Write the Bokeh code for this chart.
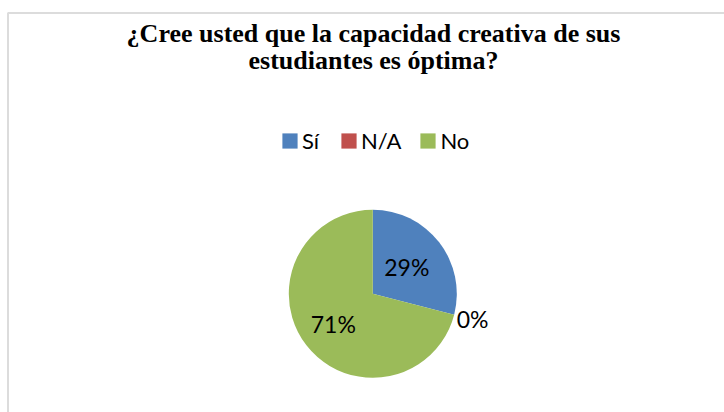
import math
from bokeh.plotting import figure
from bokeh.models import Range1d, Legend, LegendItem, BoxAnnotation, Label, ColumnDataSource
from bokeh.core.properties import value
from bokeh.embed import file_html
from bokeh.resources import INLINE

# ---- data ----
categories = ["Sí", "N/A", "No"]
values = [29, 0, 71]
colors = ["#4F81BD", "#C0504D", "#9BBB59"]
title_lines = ["¿Cree usted que la capacidad creativa de sus", "estudiantes es óptima?"]

W, H = 724, 412
p = figure(width=W, height=H, output_backend="svg", toolbar_location=None,
           x_range=Range1d(0, W), y_range=Range1d(0, H), min_border=0,
           outline_line_color=None)
p.xaxis.visible = False
p.yaxis.visible = False
p.grid.visible = False
p.background_fill_color = "white"
p.border_fill_color = "white"

# chart area border (top/left visible)
p.add_layout(BoxAnnotation(left=7.5, right=W + 50, top=H - 12.5, bottom=-50,
                           fill_alpha=0, line_color="#8C8C8C", line_width=2))

# title
title_baselines = [H - 33, H - 60]
for t, yb in zip(title_lines, title_baselines):
    p.add_layout(Label(x=373, y=yb, text=t, text_align="center",
                       text_baseline="alphabetic", text_font="Liberation Serif",
                       text_font_style="bold", text_font_size="26px", text_color="black"))

# pie
cx, cy, R = 372.3, 118.7, 84
total = sum(values)
starts, ends, mids = [], [], []
cum = 0
for v in values:
    a0 = math.pi / 2 - 2 * math.pi * cum / total
    cum += v
    a1 = math.pi / 2 - 2 * math.pi * cum / total
    starts.append(a0)
    ends.append(a1)
    mids.append((a0 + a1) / 2)

label_r = [43, 103, 50]
src = ColumnDataSource(dict(
    cat=categories, val=values, color=colors, start=starts, end=ends,
    lx=[cx + r * math.cos(m) for r, m in zip(label_r, mids)],
    ly=[cy + r * math.sin(m) for r, m in zip(label_r, mids)],
    txt=[f"{v}%" for v in values],
))

renderers = []
for i in range(len(categories)):
    rad = R if values[i] > 0 else 0
    r = p.wedge(x=cx, y=cy, radius=rad, start_angle=starts[i], end_angle=ends[i],
                direction="clock", fill_color=colors[i], line_color=None)
    renderers.append(r)

p.text(x="lx", y="ly", text="txt", source=src, text_align="center",
       text_baseline="middle", text_font=value("Lato"), text_font_size="23px",
       text_color="black")

legend = Legend(items=[LegendItem(label=c, renderers=[r]) for c, r in zip(categories, renderers)],
                orientation="horizontal", location=(280, 258),
                glyph_width=19, glyph_height=19, label_standoff=3, spacing=17,
                padding=0, margin=0, border_line_color=None, background_fill_alpha=0,
                label_text_font="Lato", label_text_font_size="22px",
                label_height=19, label_text_color="black")
p.add_layout(legend)

open("out.html", "w").write(file_html(p, INLINE))
